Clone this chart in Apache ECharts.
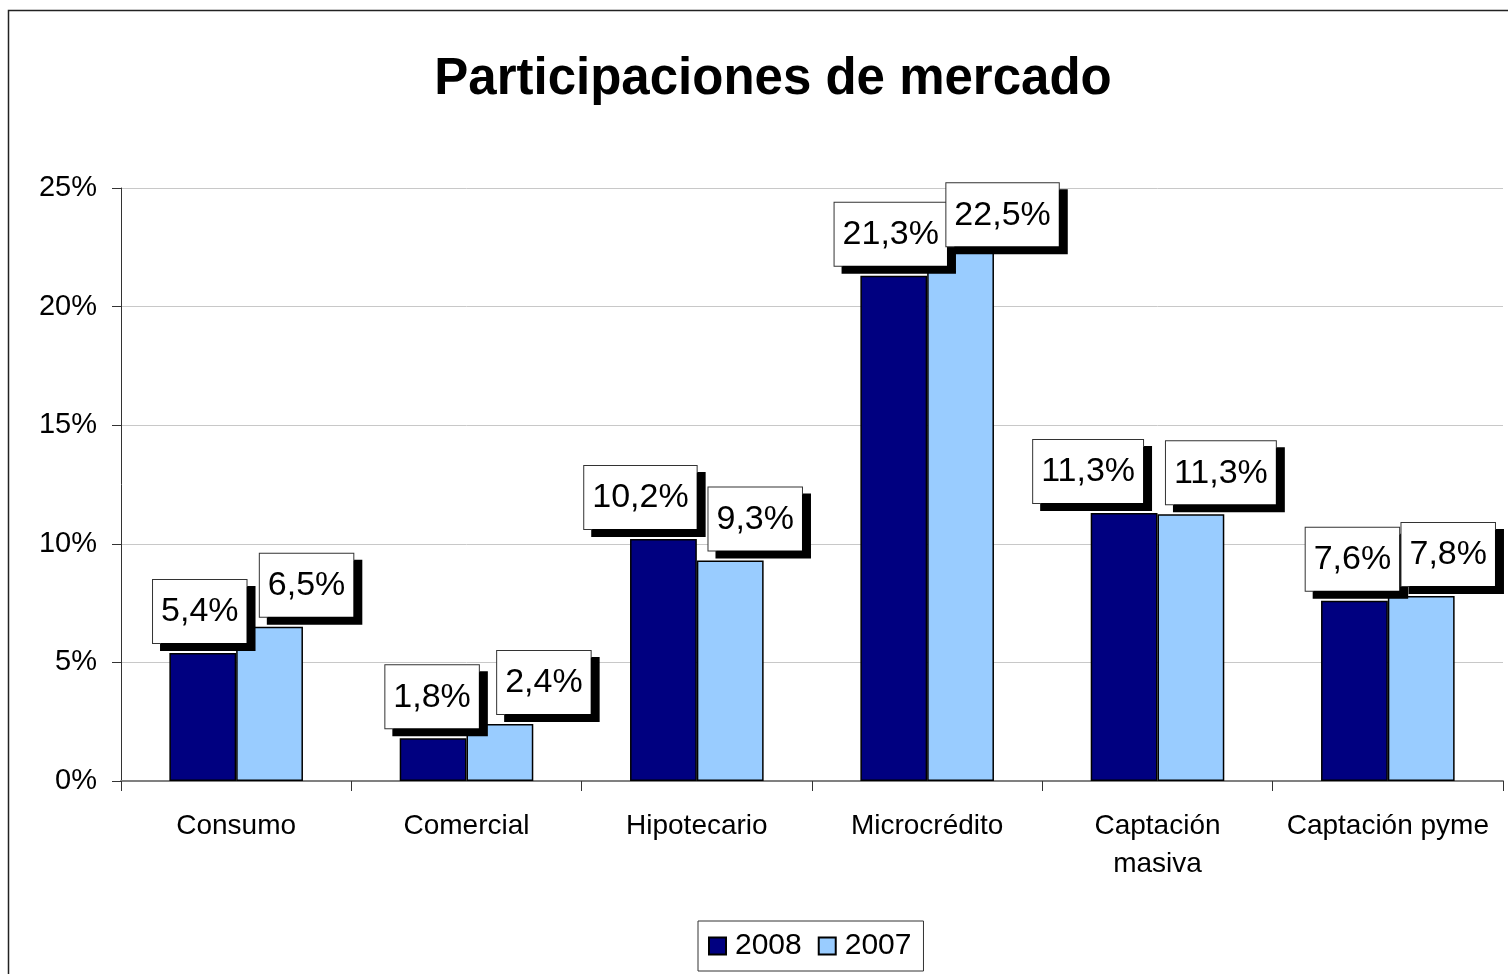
<!DOCTYPE html>
<html>
<head>
<meta charset="utf-8">
<script src="https://cdn.jsdelivr.net/npm/echarts@6/dist/echarts.min.js"></script>
<style>
    html, body { margin: 0; padding: 0; background: #fff; }
    #chart { width: 1508px; height: 974px; }
</style>
</head>
<body>
<div id="chart"></div>
<script>
// datos
const categories = ['Consumo', 'Comercial', 'Hipotecario', 'Microcrédito', 'Captación masiva', 'Captación pyme'];
const values2008 = [5.4, 1.8, 10.2, 21.3, 11.3, 7.6];
const values2007 = [6.5, 2.4, 9.3, 22.5, 11.25, 7.8];
const yTicks = [0, 5, 10, 15, 20, 25];

// desplazamiento de las etiquetas [dx, dy] (como en Excel)
const nudge2008 = [[-3, 0], [-1, 0], [-23, 0], [-3, 0], [-36, 0], [-2, 0]];
const nudge2007 = [[37, 0], [44, 0], [25, 0], [42, 9], [30, 0], [27, 0]];

const fontName = '"Liberation Sans", Arial, sans-serif';

function pct(v) {
    return v.toFixed(1).replace('.', ',') + '%';
}

// etiqueta con caja blanca y sombra negra
function boxLabel(off) {
    return {
        show: true,
        position: 'top',
        distance: 10,
        offset: off,
        fontFamily: fontName,
        fontSize: 34,
        color: '#000',
        backgroundColor: '#fff',
        borderColor: '#333',
        borderWidth: 1,
        padding: [15, 8, 14, 8],
        shadowColor: '#000',
        shadowBlur: 0,
        shadowOffsetX: 8,
        shadowOffsetY: 7,
        formatter: p => pct(p.value)
    };
}

function buildData(vals, nudges) {
    let data = [];
    for (let i = 0; i < vals.length; i++) {
        data.push({ value: vals[i], label: boxLabel(nudges[i]) });
    }
    return data;
}

const chart = echarts.init(document.getElementById('chart'));

const option = {
    animation: false,
    backgroundColor: '#fff',
    graphic: [{
        type: 'rect',
        shape: { x: 8.5, y: 10.5, width: 1540, height: 1000 },
        style: { fill: 'none', stroke: '#222', lineWidth: 1.5 },
        silent: true,
        z: -1
    }],
    title: {
        text: 'Participaciones de mercado',
        left: 768,
        textAlign: 'center',
        top: 49,
        textStyle: {
            fontFamily: fontName,
            fontSize: 51,
            fontWeight: 'bold',
            color: '#000'
        }
    },
    grid: {
        left: 121,
        right: 5,
        top: 188,
        bottom: 193,
        containLabel: false
    },
    xAxis: {
        type: 'category',
        data: categories,
        axisLine: { lineStyle: { color: '#808080', width: 2 } },
        axisTick: { show: true, length: 10, lineStyle: { color: '#333', width: 1 } },
        axisLabel: {
            interval: 0,
            fontFamily: fontName,
            fontSize: 28,
            color: '#000',
            margin: 26,
            lineHeight: 38,
            formatter: v => v === 'Captación masiva' ? 'Captación\nmasiva' : v
        }
    },
    yAxis: {
        type: 'value',
        min: yTicks[0],
        max: yTicks[yTicks.length - 1],
        interval: yTicks[1] - yTicks[0],
        axisLine: { show: true, lineStyle: { color: '#333', width: 1 } },
        axisTick: { show: true, length: 9, lineStyle: { color: '#333' } },
        splitLine: { lineStyle: { color: '#c8c8c8', width: 1 } },
        axisLabel: {
            fontFamily: fontName,
            fontSize: 29,
            color: '#000',
            margin: 24,
            formatter: '{value}%'
        }
    },
    legend: {
        left: 698,
        bottom: 3,
        orient: 'horizontal',
        icon: 'rect',
        itemWidth: 17,
        itemHeight: 17,
        itemGap: 16,
        padding: [10, 12, 10, 10],
        borderColor: '#333',
        borderWidth: 1,
        textStyle: { fontFamily: fontName, fontSize: 30, color: '#000', padding: [0, 0, 0, 4] },
        data: ['2008', '2007']
    },
    series: [
        {
            name: '2008',
            type: 'bar',
            data: buildData(values2008, nudge2008),
            barWidth: '29%',
            barGap: '0%',
            itemStyle: { color: '#000080', borderColor: '#000', borderWidth: 1.5 }
        },
        {
            name: '2007',
            type: 'bar',
            data: buildData(values2007, nudge2007),
            barWidth: '29%',
            barGap: '0%',
            itemStyle: { color: '#99ccff', borderColor: '#000', borderWidth: 1.5 }
        }
    ]
};

chart.setOption(option);
</script>
</body>
</html>
